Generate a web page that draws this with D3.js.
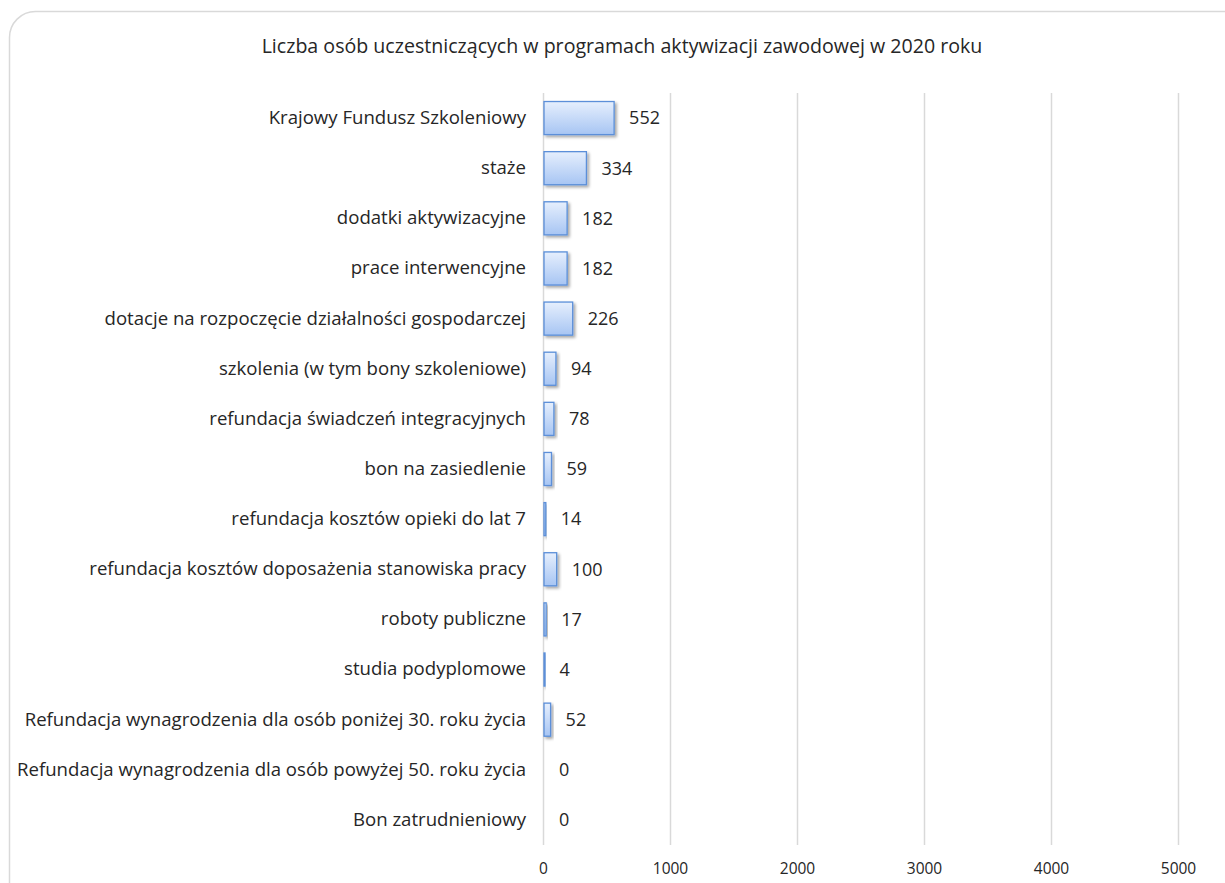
<!DOCTYPE html>
<html>
<head>
<meta charset="utf-8">
<script src="https://cdn.jsdelivr.net/npm/d3@7"></script>
<style>
  body { margin: 0; background: #fff; }
  svg { display: block; font-family: "Open Sans", sans-serif; }
</style>
</head>
<body>
<div id="chart"></div>
<script>
const categories = [
  "Krajowy Fundusz Szkoleniowy",
  "staże",
  "dodatki aktywizacyjne",
  "prace interwencyjne",
  "dotacje na rozpoczęcie działalności gospodarczej",
  "szkolenia (w tym bony szkoleniowe)",
  "refundacja świadczeń integracyjnych",
  "bon na zasiedlenie",
  "refundacja kosztów opieki do lat 7",
  "refundacja kosztów doposażenia stanowiska pracy",
  "roboty publiczne",
  "studia podyplomowe",
  "Refundacja wynagrodzenia dla osób poniżej 30. roku życia",
  "Refundacja wynagrodzenia dla osób powyżej 50. roku życia",
  "Bon zatrudnieniowy"
];
const values = [552, 334, 182, 182, 226, 94, 78, 59, 14, 100, 17, 4, 52, 0, 0];
const ticks = [0, 1000, 2000, 3000, 4000, 5000];
const title = "Liczba osób uczestniczących w programach aktywizacji zawodowej w 2020 roku";

const width = 1225, height = 883;
const margin = { top: 93, left: 543, right: 47, bottom: 38 };

const svg = d3.select("#chart").append("svg")
  .attr("width", width)
  .attr("height", height);

// gradient + shadow for bars
const defs = svg.append("defs");
const grad = defs.append("linearGradient")
  .attr("id", "barFill")
  .attr("x1", 0).attr("y1", 0).attr("x2", 0).attr("y2", 1);
grad.append("stop").attr("offset", "0%").attr("stop-color", "#e6effd");
grad.append("stop").attr("offset", "100%").attr("stop-color", "#a7c5f3");

const shadow = defs.append("filter").attr("id", "shadow")
  .attr("x", "-20%").attr("y", "-20%").attr("width", "160%").attr("height", "160%");
shadow.append("feDropShadow")
  .attr("dx", 2).attr("dy", 2).attr("stdDeviation", 1.5)
  .attr("flood-color", "#000").attr("flood-opacity", 0.35);

// outer frame
svg.append("rect")
  .attr("x", 9.5).attr("y", 11.5)
  .attr("width", 1240).attr("height", 900)
  .attr("rx", 26)
  .attr("fill", "#fff")
  .attr("stroke", "#d9d9d9")
  .attr("stroke-width", 1.5);

svg.append("text")
  .attr("x", 622)
  .attr("y", 53)
  .attr("text-anchor", "middle")
  .attr("font-size", "19.6px")
  .attr("fill", "#262626")
  .text(title);

const x = d3.scaleLinear()
  .domain([0, 5000])
  .range([margin.left, margin.left + 635]);

const y = d3.scaleBand()
  .domain(categories)
  .range([margin.top, height - margin.bottom])
  .paddingInner(0.34)
  .paddingOuter(0.17);

// gridlines
svg.append("g")
  .selectAll("line")
  .data(ticks)
  .join("line")
  .attr("x1", d => x(d) + 0.5)
  .attr("x2", d => x(d) + 0.5)
  .attr("y1", margin.top)
  .attr("y2", height - margin.bottom)
  .attr("stroke", "#d9d9d9")
  .attr("stroke-width", 1.5);

// x axis labels
const xAxis = svg.append("g")
  .attr("transform", `translate(0,${height - margin.bottom + 10})`)
  .call(d3.axisBottom(x).tickValues(ticks).tickFormat(d3.format("d")).tickSize(0).tickPadding(8));
xAxis.select(".domain").remove();
xAxis.selectAll("text")
  .attr("font-family", "Open Sans, sans-serif")
  .attr("font-size", "15.5px")
  .attr("fill", "#262626");

// y axis labels
const yAxis = svg.append("g")
  .attr("transform", `translate(${margin.left - 6},0)`)
  .call(d3.axisLeft(y).tickSize(0).tickPadding(11));
yAxis.select(".domain").remove();
yAxis.selectAll("text")
  .attr("font-family", "Open Sans, sans-serif")
  .attr("font-size", "18.6px")
  .attr("fill", "#262626");

// bars
svg.append("g")
  .selectAll("rect")
  .data(values.map((v, i) => ({ cat: categories[i], v })).filter(d => d.v > 0))
  .join("rect")
  .attr("x", x(0) + 1)
  .attr("y", d => y(d.cat))
  .attr("width", d => Math.max(1, x(d.v) - x(0)))
  .attr("height", y.bandwidth())
  .attr("fill", "url(#barFill)")
  .attr("stroke", "#5b8fd9")
  .attr("stroke-width", 1.3)
  .attr("filter", "url(#shadow)");

// value labels
svg.append("g")
  .selectAll("text")
  .data(values)
  .join("text")
  .attr("x", d => x(d) + 16)
  .attr("y", (d, i) => y(categories[i]) + y.bandwidth() / 2)
  .attr("dy", "0.35em")
  .attr("font-size", "18px")
  .attr("fill", "#262626")
  .text(d => d);
</script>
</body>
</html>
